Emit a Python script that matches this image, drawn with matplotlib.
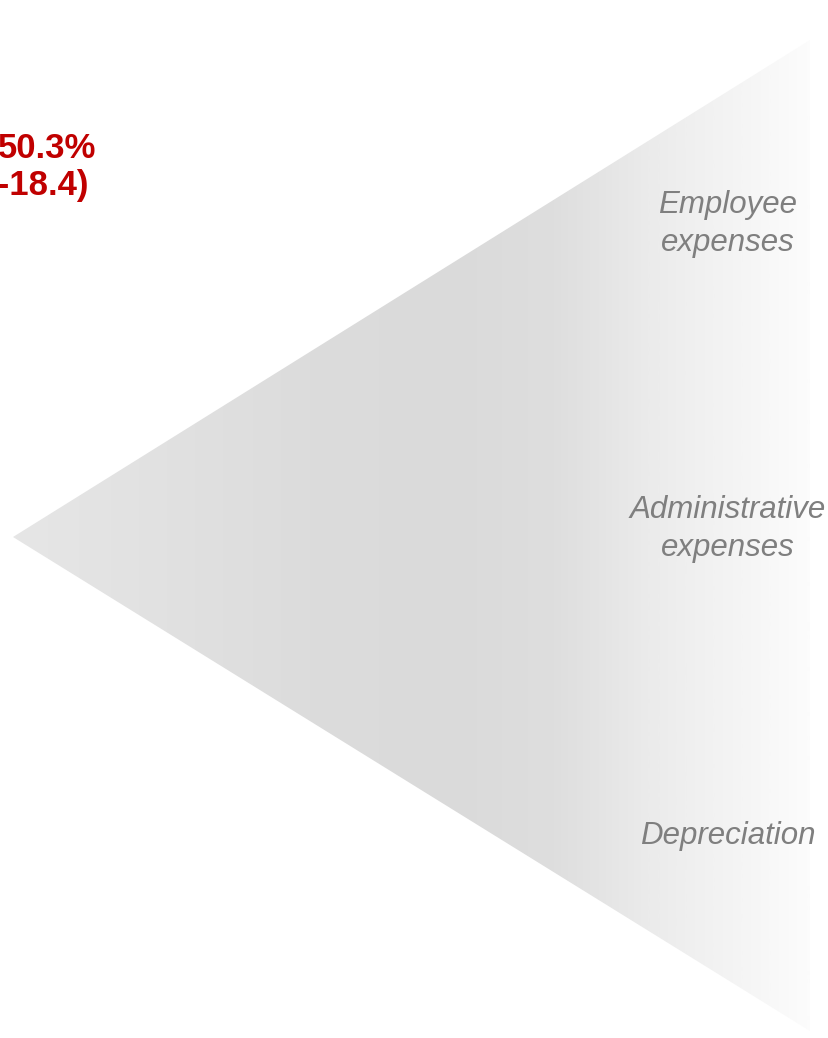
import numpy as np
import matplotlib.pyplot as plt
from matplotlib.patches import Polygon
from matplotlib.colors import LinearSegmentedColormap

# labels on the right side of the wedge
categories = ['Employee\nexpenses', 'Administrative\nexpenses', 'Depreciation']
cat_y = [224, 529, 836]

# headline figures (partly cut off at the left edge)
value_lines = ['50.3%', '(-18.4)']
value_x = [96, 89]
value_y = [148, 185]

# wedge shape and its horizontal shading
wedge = [(13, 537), (810, 40), (810, 1031)]
shade_pos = [0.0, 0.12, 0.37, 0.55, 0.68, 0.80, 1.0]
shade_col = ['#e6e6e6', '#e3e3e3', '#dcdcdc', '#dadada', '#dedede', '#ebebeb', '#fcfcfc']

plt.rcParams['font.family'] = ['Liberation Sans', 'DejaVu Sans']

fig = plt.figure(figsize=(8.29, 10.38), dpi=100)
ax = fig.add_axes([0, 0, 1, 1])
ax.set_xlim(0, 829)
ax.set_ylim(1038, 0)
ax.axis('off')

cmap = LinearSegmentedColormap.from_list('shade', list(zip(shade_pos, shade_col)))
grad = np.linspace(0, 1, 400).reshape(1, -1)
x0, x1 = wedge[0][0], wedge[1][0]
img = ax.imshow(grad, cmap=cmap, aspect='auto', extent=[x0, x1, 1038, 0],
                interpolation='bilinear', vmin=0, vmax=1)
poly = Polygon(wedge, closed=True, facecolor='none', edgecolor='none')
ax.add_patch(poly)
img.set_clip_path(poly)

for lab, y in zip(categories, cat_y):
    ax.text(728, y, lab, ha='center', va='center', multialignment='center',
            fontsize=22.5, style='italic', color='#7f7f7f', linespacing=1.32)

for txt, x, y in zip(value_lines, value_x, value_y):
    ax.text(x, y, txt, ha='right', va='center', fontsize=25,
            fontweight='bold', color='#c00000')

fig.savefig('out.png', dpi=100)
